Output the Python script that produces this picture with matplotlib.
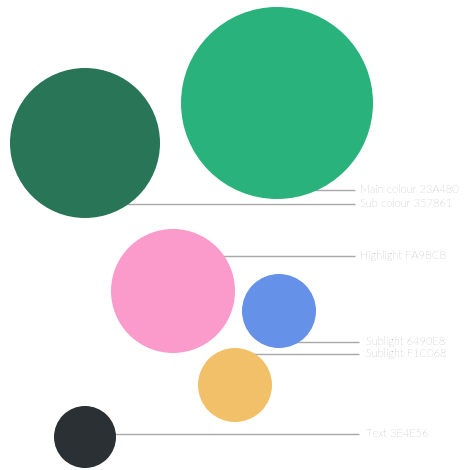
import matplotlib
matplotlib.use("Agg")
import matplotlib.pyplot as plt
from matplotlib.patches import Circle

# Data
names = ["Main colour", "Sub colour", "Highlight", "Sublight", "Sublight", "Text"]
hex_codes = ["23A480", "357861", "FA9BCB", "6490E8", "F1C068", "3E4E56"]
x_vals = [277, 85, 173, 279, 235, 85]
y_vals = [103, 143, 291, 311, 385, 437]
radii = [96, 75, 62, 37, 37, 31]
label_y = [190, 204, 256, 342, 354, 434]

# Style
fill_colors = ["#29B27C", "#297557", "#FA9BCB", "#6691E8", "#F1C068", "#2A3033"]
line_end = [355, 355, 355, 359, 359, 359]
text_x = [360, 360, 360, 366, 366, 366]

fig = plt.figure(figsize=(4.69, 4.70), dpi=100)
ax = fig.add_axes([0, 0, 1, 1])
ax.set_xlim(0, 469)
ax.set_ylim(470, 0)
ax.set_aspect("equal")
ax.axis("off")

for i in range(len(names)):
    ax.add_patch(Circle((x_vals[i], y_vals[i]), radii[i], facecolor=fill_colors[i],
                        edgecolor="none", zorder=3))
    ax.plot([x_vals[i], line_end[i]], [label_y[i], label_y[i]], color="#A8A8A8",
            lw=1.0, zorder=1, solid_capstyle="butt")
    ax.text(text_x[i], label_y[i] - 0.5, f"{names[i]} {hex_codes[i]}", fontsize=8,
            family="Lato", fontweight="light", color="#808080", va="center", ha="left")

fig.savefig("out.png", dpi=100)
